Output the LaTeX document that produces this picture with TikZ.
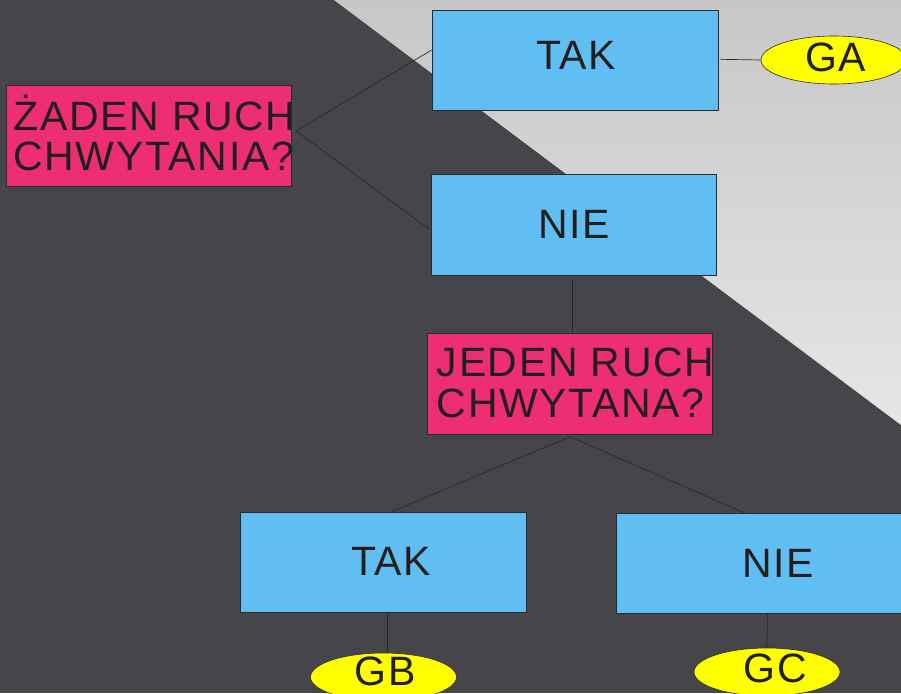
\documentclass[tikz,border=0pt]{standalone}
\usepackage{fontspec}
\setmainfont{Liberation Sans}[LetterSpace=4]
\usetikzlibrary{shapes.geometric}
\definecolor{bgdark}{HTML}{46454A}
\definecolor{lighttop}{HTML}{C7C7C7}
\definecolor{lightbot}{HTML}{E6E6E6}
\definecolor{boxblue}{HTML}{60BEF2}
\definecolor{boxpink}{HTML}{EE2E72}
\definecolor{ovalyellow}{HTML}{FFFF00}
\definecolor{inkdark}{HTML}{231F20}
\definecolor{edgeline}{HTML}{2A2A2C}
\begin{document}
\begin{tikzpicture}[x=1pt,y=-1pt,
  boxbase/.style={draw=edgeline, line width=0.8pt, inner sep=0pt},
  bluebox/.style={boxbase, fill=boxblue, rectangle, minimum width=286pt, minimum height=100pt},
  pinkbox/.style={boxbase, fill=boxpink, rectangle, minimum width=285pt, minimum height=101pt},
  oval/.style={draw=edgeline, line width=0.6pt, fill=ovalyellow, ellipse, inner sep=0pt, minimum width=146pt, minimum height=48pt},
  txt/.style={inner sep=0pt, text=inkdark, font=\fontsize{41}{43}\selectfont},
  link/.style={draw=edgeline, line width=0.7pt}
]
\fill[bgdark] (0,0) rectangle (901,693);
\shade[top color=lighttop, bottom color=lightbot] (334,0) -- (901,0) -- (901,425) -- cycle;
\useasboundingbox (0,0) rectangle (901,693);

% boxes
\node[pinkbox] (q1) at (149.2,136) {};
\node[bluebox] (tak1) at (575,60.3) {};
\node[bluebox, minimum width=285pt, minimum height=101pt] (nie1) at (574.2,224.8) {};
\node[pinkbox] (q2) at (569.5,383.8) {};
\node[bluebox] (tak2) at (383.6,562.5) {};
\node[bluebox] (nie2) at (759,563.5) {};
\node[oval] (ga) at (834,60) {};
\node[oval] (gb) at (383.5,677) {};
\node[oval] (gc) at (767,672) {};

% texts
\node[txt, anchor=base west] (q1a) at (13.3,130) {ŻADEN RUCH};
\node[txt, anchor=base west] (q1b) at (13.3,170.7) {CHWYTANIA?};
\node[txt, anchor=base west] (q2a) at (436.7,376) {JEDEN RUCH};
\node[txt, anchor=base west] (q2b) at (436.7,417) {CHWYTANA?};
\node[txt, anchor=base] (tak1t) at (576,70) {TAK};
\node[txt, anchor=base] (nie1t) at (574,238) {NIE};
\node[txt, anchor=base] (tak2t) at (391,575) {TAK};
\node[txt, anchor=base] (nie2t) at (778,577) {NIE};
\node[txt, anchor=base] (gat) at (835.5,71) {GA};
\node[txt, anchor=base] (gbt) at (385,685) {GB};
\node[txt, anchor=base] (gct) at (775.5,682) {GC};

% connectors
\coordinate (q1r) at (296,131);
\coordinate (q2b0) at (570.2,436.7);
\draw[link] (q1r) -- (tak1.west |- 0,50);
\draw[link] (q1r) -- (429,229);
\draw[link] (tak1.east |- 0,59.3) ++(2,0) -- (ga.west);
\draw[link] (nie1.south -| 572.3,0) ++(0,4) -- (q2.north -| 572.3,0);
\draw[link] (q2b0) -- (tak2.north -| 390.5,0);
\draw[link] (q2b0) -- (nie2.north -| 744.8,0);
\draw[link] (tak2.south -| 387.5,0) -- (gb.north -| 387.5,0);
\draw[link] (nie2.south -| 767.4,0) -- (gc.north);
\end{tikzpicture}
\end{document}
